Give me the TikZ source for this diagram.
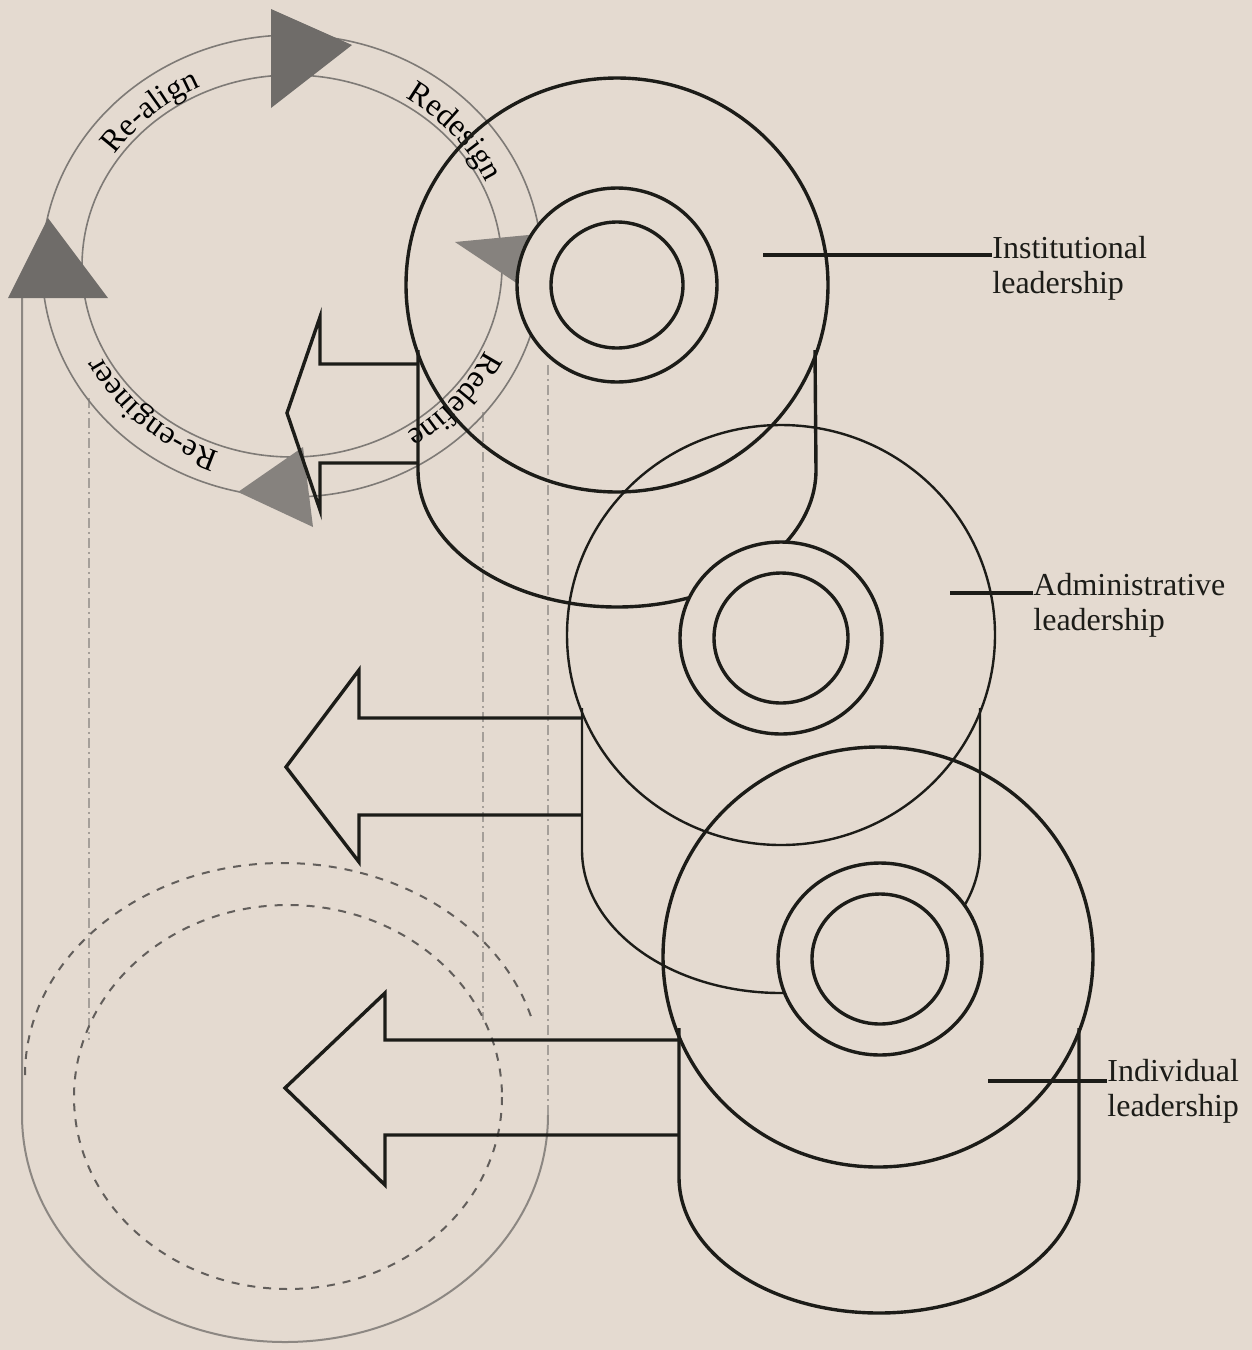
\documentclass[tikz,border=0pt]{standalone}
\usepackage{fontspec}
\setmainfont{Liberation Serif}
\usetikzlibrary{decorations.text}
\definecolor{Paper}{HTML}{E4DAD0}
\definecolor{Ink}{HTML}{1C1C18}
\definecolor{Ghost}{HTML}{8C8782}
\definecolor{Faint}{HTML}{A59F99}
\definecolor{Shade}{HTML}{6F6C69}
\definecolor{Pale}{HTML}{86827E}
\definecolor{Ring}{HTML}{7E7A76}

\begin{document}
\begin{tikzpicture}[x=0.5pt,y=-0.5pt,
    ink/.style={draw=Ink,line width=1.7pt},
    thinink/.style={draw=Ink,line width=1.2pt},
    lead/.style={draw=Ink,line width=2pt},
    ghost/.style={draw=Ghost,line width=1pt},
    faint/.style={draw=Faint,line width=0.8pt,dash pattern=on 5pt off 2pt on 1pt off 2pt},
    dashcirc/.style={draw=Ghost!70!black,line width=1pt,dash pattern=on 4pt off 4pt},
    ringline/.style={draw=Ring,line width=0.8pt},
    levelname/.style={font=\fontsize{16}{17.5}\selectfont,align=left,inner sep=0pt,text=Ink},
    ringtext/.style={decorate,decoration={text along path,text align=center,text={|\fontsize{16}{17.5}\selectfont|#1}}}]
        \fill[Paper] (0,0) rectangle (1252,1350);
        \useasboundingbox (0,0) rectangle (1252,1350);

        \draw[ghost] (22,298) -- (22,1115) arc[start angle=180,end angle=0,x radius=263,y radius=227];
        \draw[faint] (548,1115) -- (548,363);
        \draw[faint] (89,398) -- (89,1040);
        \draw[faint] (483,412) -- (483,1020);
        \draw[dashcirc] (25,1075) arc[start angle=180,end angle=345,x radius=258,y radius=212];
        \draw[dashcirc] (288,1097) ellipse[x radius=214,y radius=192];

        \coordinate (hub) at (292,266);
        \draw[ringline] (hub) ellipse[x radius=250,y radius=231];
        \draw[ringline] (hub) ellipse[x radius=210,y radius=191];
        \path[ringtext=Re-align] ([shift={(hub)}]-163:214 and 198) arc[start angle=-163,end angle=-99,x radius=214,y radius=198];
        \path[ringtext=Redesign] ([shift={(hub)}]-73:214 and 198) arc[start angle=-73,end angle=-9,x radius=214,y radius=198];
        \path[ringtext=Redefine] ([shift={(hub)}]9:214 and 198) arc[start angle=9,end angle=73,x radius=214,y radius=198];
        \path[ringtext=Re-engineer] ([shift={(hub)}]92:214 and 198) arc[start angle=92,end angle=172,x radius=214,y radius=198];

        \fill[Shade] (271,9) -- (352,45) -- (271,108) -- cycle;
        \fill[Shade] (48,218) -- (108,298) -- (8,298) -- cycle;
        \fill[Pale] (303,447) -- (313,527) -- (238,492) -- cycle;
        \fill[Pale] (455,242) -- (560,232) -- (545,302) -- cycle;

        \draw[ink] (418,364) -- (320,364) -- (320,317) -- (287,413) -- (320,510) -- (320,463) -- (418,463);
        \draw[ink] (582,718) -- (359,718) -- (359,670) -- (286,767) -- (359,862) -- (359,815) -- (582,815);
        \draw[ink] (679,1040) -- (385,1040) -- (385,993) -- (285,1088) -- (385,1185) -- (385,1135) -- (679,1135);

        \draw[ink] (617,285) ellipse[x radius=211,y radius=207];
        \draw[ink] (418,350) -- (418,470) arc[start angle=180,end angle=0,x radius=199,y radius=137] -- (815,350);
        \draw[thinink] (781,635) ellipse[x radius=214,y radius=210];
        \draw[thinink] (582,708) -- (582,850) arc[start angle=180,end angle=0,x radius=199,y radius=143] -- (980,708);
        \draw[ink] (878,957) ellipse[x radius=215,y radius=210];
        \draw[ink] (679,1028) -- (679,1177) arc[start angle=180,end angle=0,x radius=200,y radius=136] -- (1079,1028);

        \draw[ink,fill=Paper] (617,285) ellipse[x radius=100,y radius=97];
        \draw[ink] (617,285) ellipse[x radius=66,y radius=63];
        \draw[ink,fill=Paper] (781,638) ellipse[x radius=101,y radius=96];
        \draw[ink] (781,638) ellipse[x radius=67,y radius=65];
        \draw[ink,fill=Paper] (880,959) ellipse[x radius=102,y radius=96];
        \draw[ink] (880,959) ellipse[x radius=68,y radius=65];

        \coordinate (instFoot) at (763,255);
        \node[levelname,anchor=north west] (inst) at (992,236) {Institutional\\leadership};
        \draw[lead] (instFoot) -- (instFoot -| inst.west);
        \coordinate (adminFoot) at (950,593);
        \node[levelname,anchor=north west] (admin) at (1033,573) {Administrative\\leadership};
        \draw[lead] (adminFoot) -- (adminFoot -| admin.west);
        \coordinate (indivFoot) at (988,1081);
        \node[levelname,anchor=north west] (indiv) at (1107,1059) {Individual\\leadership};
        \draw[lead] (indivFoot) -- (indivFoot -| indiv.west);
      \end{tikzpicture}
\end{document}
